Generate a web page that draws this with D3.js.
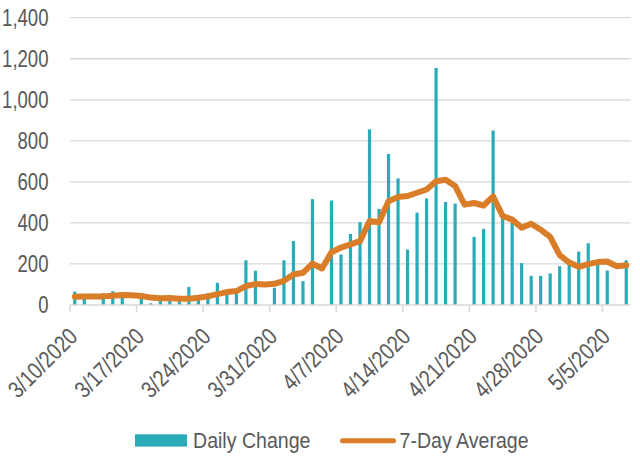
<!DOCTYPE html>
<html>
<head>
<meta charset="utf-8">
<script src="https://cdn.jsdelivr.net/npm/d3@7"></script>
<style>
  html, body { margin: 0; padding: 0; background: #ffffff; }
  svg { display: block; }
  text { font-family: "Liberation Sans", Arial, sans-serif; fill: #595959; }
</style>
</head>
<body>
<svg id="chart" width="640" height="458"></svg>
<script>
const dates = [
  "3/10/2020","3/11/2020","3/12/2020","3/13/2020","3/14/2020","3/15/2020","3/16/2020",
  "3/17/2020","3/18/2020","3/19/2020","3/20/2020","3/21/2020","3/22/2020","3/23/2020",
  "3/24/2020","3/25/2020","3/26/2020","3/27/2020","3/28/2020","3/29/2020","3/30/2020",
  "3/31/2020","4/1/2020","4/2/2020","4/3/2020","4/4/2020","4/5/2020","4/6/2020",
  "4/7/2020","4/8/2020","4/9/2020","4/10/2020","4/11/2020","4/12/2020","4/13/2020",
  "4/14/2020","4/15/2020","4/16/2020","4/17/2020","4/18/2020","4/19/2020","4/20/2020",
  "4/21/2020","4/22/2020","4/23/2020","4/24/2020","4/25/2020","4/26/2020","4/27/2020",
  "4/28/2020","4/29/2020","4/30/2020","5/1/2020","5/2/2020","5/3/2020","5/4/2020",
  "5/5/2020","5/6/2020","5/7/2020"
];
const dailyChange = [
  65, 53, 0, 57, 67, 62, 0,
  35, 8, 35, 35, 33, 88, 45,
  57, 108, 60, 60, 218, 167, 0,
  84, 218, 312, 116, 516, 0, 509,
  246, 346, 404, 856, 468, 736, 617,
  270, 450, 519, 1155, 502, 494, 0,
  332, 371, 850, 425, 400, 204, 142,
  142, 154, 189, 210, 260, 301, 200,
  168, 0, 218
];
const sevenDayAverage = [
  40, 41, 41, 42, 45, 49, 48,
  44, 36, 33, 34, 30, 30, 35,
  42, 53, 63, 68, 92, 102, 100,
  103, 118, 149, 157, 202, 178, 257,
  280, 295, 311, 409, 403, 506, 526,
  531, 547, 563, 603, 610, 580, 489,
  497, 485, 529, 434, 416, 377, 396,
  367, 332, 243, 207, 186, 199, 209,
  212, 189, 194
];
const tickLabels = ["3/10/2020","3/17/2020","3/24/2020","3/31/2020","4/7/2020","4/14/2020","4/21/2020","4/28/2020","5/5/2020"];
const yTicks = [0, 200, 400, 600, 800, 1000, 1200, 1400];
const seriesNames = ["Daily Change", "7-Day Average"];

(function () {
const barColor = "#2aabb8";
const lineColor = "#da7d29";
const gridColor = "#d9d9d9";

const svg = d3.select("#chart");
const mLeft = 70, mRight = 631, mTop = 17.7, mBottom = 305;

const xs = d3.scaleBand().domain(dates).range([mLeft, mRight]);
const y = d3.scaleLinear().domain([0, 1400]).range([mBottom, mTop]);

// gridlines
svg.append("g").selectAll("line").data(yTicks.filter(d => d > 0)).join("line")
  .attr("x1", mLeft).attr("x2", mRight)
  .attr("y1", d => y(d)).attr("y2", d => y(d))
  .attr("stroke", gridColor).attr("stroke-width", 1.3);

// y labels
const fmt = d3.format(",");
svg.append("g").selectAll("text").data(yTicks).join("text")
  .attr("transform", d => `translate(48.5,${y(d)}) scale(0.79,1)`)
  .attr("dy", "0.36em")
  .attr("text-anchor", "end").attr("font-size", 23.5)
  .text(d => fmt(d));

// bars
svg.append("g").selectAll("rect").data(dates.map((d, i) => ({d, v: dailyChange[i]}))).join("rect")
  .attr("x", p => xs(p.d) + xs.bandwidth() / 2 - 1.6)
  .attr("width", 3.2)
  .attr("y", p => y(p.v))
  .attr("height", p => y(0) - y(p.v))
  .attr("fill", barColor);

// x axis baseline & ticks
svg.append("line").attr("x1", mLeft).attr("x2", mRight).attr("y1", mBottom).attr("y2", mBottom)
  .attr("stroke", gridColor).attr("stroke-width", 1.5);
svg.append("g").selectAll("line").data(tickLabels).join("line")
  .attr("x1", d => xs(d)).attr("x2", d => xs(d))
  .attr("y1", mBottom).attr("y2", mBottom + 7)
  .attr("stroke", gridColor).attr("stroke-width", 1.5);

// line
const line = d3.line()
  .x((v, i) => xs(dates[i]) + xs.bandwidth() / 2)
  .y(v => y(v));
svg.append("path").datum(sevenDayAverage)
  .attr("d", line)
  .attr("fill", "none").attr("stroke", lineColor).attr("stroke-width", 6)
  .attr("stroke-linejoin", "round").attr("stroke-linecap", "round");

// x labels
svg.append("g").selectAll("text").data(tickLabels).join("text")
  .attr("transform", d => `translate(${xs(d) + 9},${mBottom + 33}) rotate(-45) scale(0.83,1)`)
  .attr("text-anchor", "end").attr("font-size", 23.5)
  .text(d => d);

// legend
const lg = svg.append("g");
lg.append("rect").attr("x", 135).attr("y", 434.3).attr("width", 52).attr("height", 12.3).attr("fill", barColor);
lg.append("text").attr("transform", "translate(193,447.7) scale(0.87,1)").attr("font-size", 22.5).text(seriesNames[0]);
lg.append("line").attr("x1", 342.5).attr("x2", 393.5).attr("y1", 440.7).attr("y2", 440.7)
  .attr("stroke", lineColor).attr("stroke-width", 5).attr("stroke-linecap", "round");
lg.append("text").attr("transform", "translate(399.5,447.7) scale(0.87,1)").attr("font-size", 22.5).text(seriesNames[1]);
})();
</script>
</body>
</html>
